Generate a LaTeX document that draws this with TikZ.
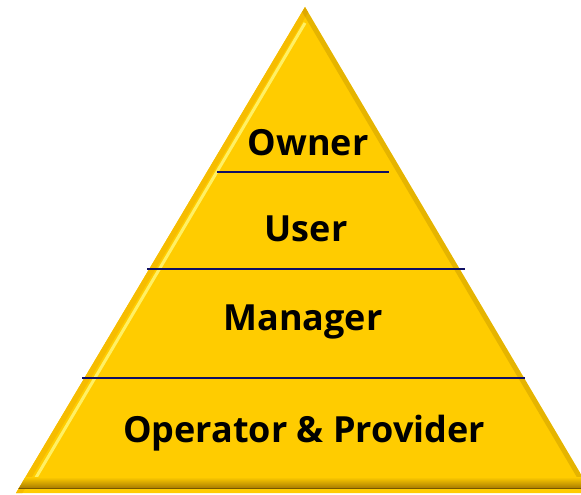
\documentclass[tikz,border=0pt]{standalone}
\usepackage{fontspec}
\setsansfont{Open Sans}
\usetikzlibrary{calc}
\definecolor{pyryellow}{RGB}{255,204,0}
\definecolor{pyrlight}{RGB}{255,240,100}
\definecolor{pyrshade}{RGB}{246,188,0}
\definecolor{pyrdark}{RGB}{170,125,0}
\definecolor{pyrline}{RGB}{15,15,100}
\begin{document}
\begin{tikzpicture}[x=1pt,y=-1pt,
    layer/.style={font=\sffamily\bfseries\fontsize{36}{40}\selectfont, text=black, inner sep=0pt, anchor=base},
    divider/.style={pyrline, line width=2.2pt}]
    \useasboundingbox (0,0) rectangle (581,495);
    \clip (0,0) rectangle (581,495);
    \coordinate (apex) at (305,7);
    \coordinate (bl) at (16,493);
    \coordinate (br) at (592,493);
    \fill[pyryellow] (apex) -- (bl) -- (br) -- cycle;
    % bevel
    \begin{scope}
        \clip (apex) -- (bl) -- (br) -- cycle;
        \draw[pyrshade, line width=11pt] (apex) -- (bl);
        \draw[pyrlight, line width=3pt] ($(apex)+(0,16)$) -- ($(bl)+(15,-7)$);
        \draw[pyrdark, line width=10pt, opacity=.3] (apex) -- (br);
        \shade[top color=pyryellow, bottom color=pyrdark] (0,477) rectangle (600,488);
        \draw[pyrdark!70!black, line width=1.5pt] (0,488.5) -- (600,488.5);
    \end{scope}
    % layer dividers
    \foreach \y/\xa/\xb in {172/217/389, 269/147/465, 378/82/525}
        \draw[divider] (\xa,\y) -- (\xb,\y);
    % layer names
    \node[layer] (owner) at (308,155) {Owner};
    \node[layer] (user) at (306,241) {User};
    \node[layer] (manager) at (303,330) {Manager};
    \node[layer] (operator) at (304,442) {Operator \& Provider};
\end{tikzpicture}
\end{document}
